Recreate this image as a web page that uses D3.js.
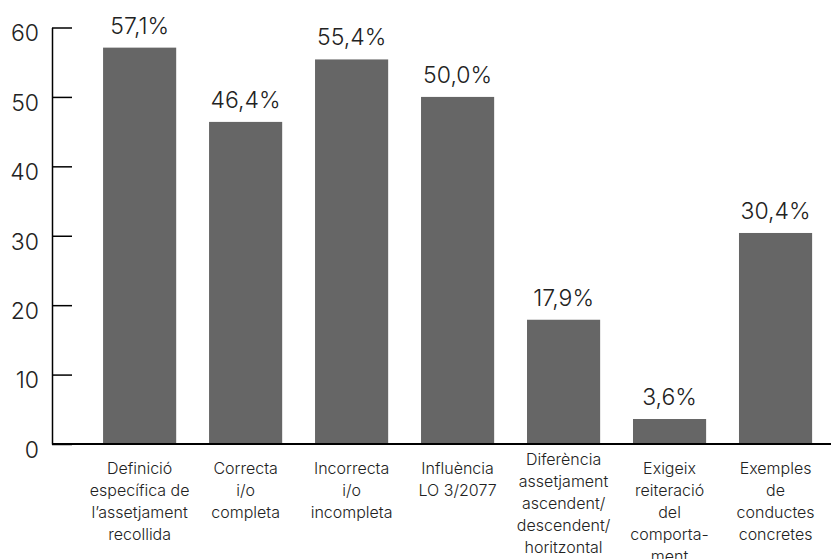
<!DOCTYPE html>
<html>
<head>
<meta charset="utf-8">
<script src="https://cdn.jsdelivr.net/npm/d3@7"></script>
<style>
  body { margin: 0; background: #fff; }
  svg { display: block; font-family: Inter, "Liberation Sans", Arial, sans-serif; font-weight: 300; }
</style>
</head>
<body>
<svg id="chart"></svg>
<script>
// data
const categories = [
  ["Definició", "específica de", "l’assetjament", "recollida"],
  ["Correcta", "i/o", "completa"],
  ["Incorrecta", "i/o", "incompleta"],
  ["Influència", "LO 3/2077"],
  ["Diferència", "assetjament", "ascendent/", "descendent/", "horitzontal"],
  ["Exigeix", "reiteració", "del", "comporta-", "ment"],
  ["Exemples", "de", "conductes", "concretes"]
];
const values = [57.1, 46.4, 55.4, 50.0, 17.9, 3.6, 30.4];
const yTicks = [0, 10, 20, 30, 40, 50, 60];

const width = 831, height = 559;
const svg = d3.select("#chart").attr("width", width).attr("height", height);

const y = d3.scaleLinear().domain([0, 60]).range([444, 27.5]);
const x = d3.scaleBand()
  .domain(d3.range(values.length))
  .range([52, 831])
  .paddingInner(0.31)
  .paddingOuter(0.33)
  .align(0.73);

const fmt = d3.formatLocale({ decimal: ",", thousands: ".", grouping: [3], currency: ["", "€"] }).format(".1f");

// bars
svg.append("g").selectAll("rect")
  .data(values)
  .enter().append("rect")
  .attr("x", (d, i) => x(i))
  .attr("y", d => y(d))
  .attr("width", x.bandwidth())
  .attr("height", d => y(0) - y(d))
  .attr("fill", "#666666");

// value labels
svg.append("g").selectAll("text")
  .data(values)
  .enter().append("text")
  .attr("x", (d, i) => x(i) + x.bandwidth() / 2)
  .attr("y", d => y(d) - 14)
  .attr("text-anchor", "middle")
  .attr("font-size", 23)
  .attr("fill", "#222")
  .text(d => fmt(d) + "%");

// y axis
const yAxis = svg.append("g")
  .attr("transform", "translate(52,0)")
  .call(d3.axisLeft(y).tickValues(yTicks).tickSizeInner(-20).tickSizeOuter(0).tickPadding(13));
yAxis.select(".domain").attr("stroke", "#000").attr("stroke-width", 1.5);
yAxis.selectAll(".tick line").attr("stroke", "#000").attr("stroke-width", 1.5);
yAxis.selectAll(".tick text")
  .attr("font-size", 23)
  .attr("font-family", null)
  .attr("fill", "#222")
  .attr("dy", "0.58em");
yAxis.attr("font-family", null);

// baseline
svg.append("line")
  .attr("x1", 52).attr("x2", 831)
  .attr("y1", y(0)).attr("y2", y(0))
  .attr("stroke", "#000").attr("stroke-width", 2);

// category labels
const shift = i => categories[i].length === 5 && i === 4 ? -9 : 0;
const lab = svg.append("g").selectAll("text")
  .data(categories)
  .enter().append("text")
  .attr("x", (d, i) => x(i) + x.bandwidth() / 2)
  .attr("y", (d, i) => 474 + shift(i))
  .attr("text-anchor", "middle")
  .attr("font-size", 16)
  .attr("fill", "#222");
lab.selectAll("tspan")
  .data(d => d)
  .enter().append("tspan")
  .attr("x", function () { return this.parentNode.getAttribute("x"); })
  .attr("dy", (d, j) => j === 0 ? 0 : 22)
  .text(d => d);
</script>
</body>
</html>
